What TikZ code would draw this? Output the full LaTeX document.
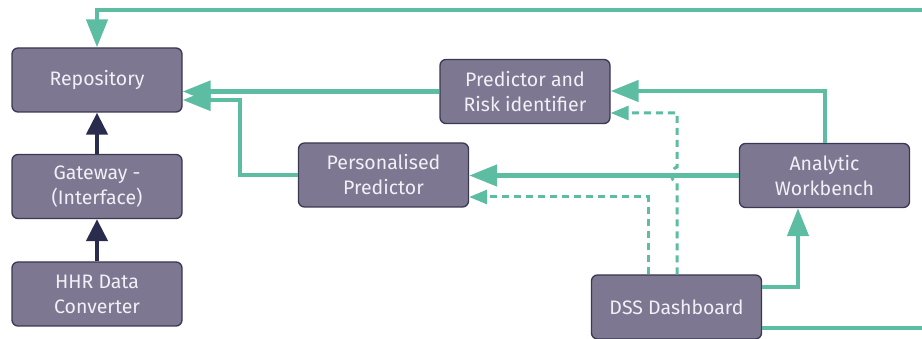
\documentclass[tikz,border=0pt]{standalone}
\usepackage{fontspec}
\setmainfont{Fira Sans}
\usetikzlibrary{arrows.meta}
\definecolor{flow}{HTML}{5CBDA2}
\definecolor{boxfill}{HTML}{7E7791}
\definecolor{boxedge}{HTML}{3A3852}
\definecolor{stack}{HTML}{2A2C4E}
\definecolor{label}{HTML}{F2F0F6}
\begin{document}
\begin{tikzpicture}[x=1pt,y=-1pt,
  module/.style={draw=boxedge, line width=1.3pt, fill=boxfill, rounded corners=6pt,
    minimum width=170pt, minimum height=64pt, inner sep=0pt, align=center,
    text=label, font=\fontsize{19.5}{25}\selectfont},
  link/.style={draw=flow, line width=4.5pt, -{Triangle[length=28pt,width=21pt]}},
  hint/.style={draw=flow, line width=3pt, dash pattern=on 7pt off 5pt,
    -{Triangle[length=18pt,width=14pt]}},
  uplink/.style={draw=stack, line width=4.5pt, -{Triangle[length=22pt,width=21pt]}}]
\path[use as bounding box] (0,0) rectangle (922,339);
\clip (0,0) rectangle (922,339);

% modules
\node[module] (repo) at (97,80) {Repository};
\node[module] (gate) at (97,186.5) {Gateway -\\(Interface)};
\node[module] (hhr)  at (97,294) {HHR Data\\Converter};
\node[module] (pri)  at (525,91.5) {Predictor and\\Risk identifier};
\node[module] (pp)   at (383.5,175) {Personalised\\Predictor};
\node[module] (aw)   at (824.5,175.5) {Analytic\\Workbench};
\node[module] (dss)  at (676.5,307) {DSS Dashboard};

% data stack
\draw[uplink] (hhr.north) -- (gate.south);
\draw[uplink] (gate.north) -- (repo.south);

% feedback loop from the dashboard back to the repository
\coordinate (loopA) at (950,328);
\coordinate (loopB) at (950,10);
\coordinate (loopC) at (97,10);
\draw[link] (dss.east |- 0,328) -- (loopA) -- (loopB) -- (loopC) -- (repo.north);

% model outputs into the repository
\draw[link] (pri.west) -- (repo.east |- pri.west);
\coordinate (ppTurnA) at (240,175);
\coordinate (ppTurnB) at (240,100);
\draw[link] (pp.west) -- (ppTurnA) -- (ppTurnB) -- (repo.east |- ppTurnB);

% workbench to the models
\draw[link] (aw.north -| 825,0) -- (825,91) -- (pri.east |- 0,91);
\draw[link] (aw.west) -- (pp.east |- aw.west);

% dashboard to workbench
\draw[link] (dss.east |- 0,287) -- (798,287) -- (aw.south -| 798,0);

% dashboard queries (dashed)
\draw[hint] (dss.north -| 648,0) -- (648,197) -- (pp.east |- 0,197);
\draw[hint] (dss.north -| 677,0) -- (677,183)
  .. controls (670,181) and (670,169) .. (677,167)
  -- (677,113) -- (pri.east |- 0,113);
\end{tikzpicture}
\end{document}
